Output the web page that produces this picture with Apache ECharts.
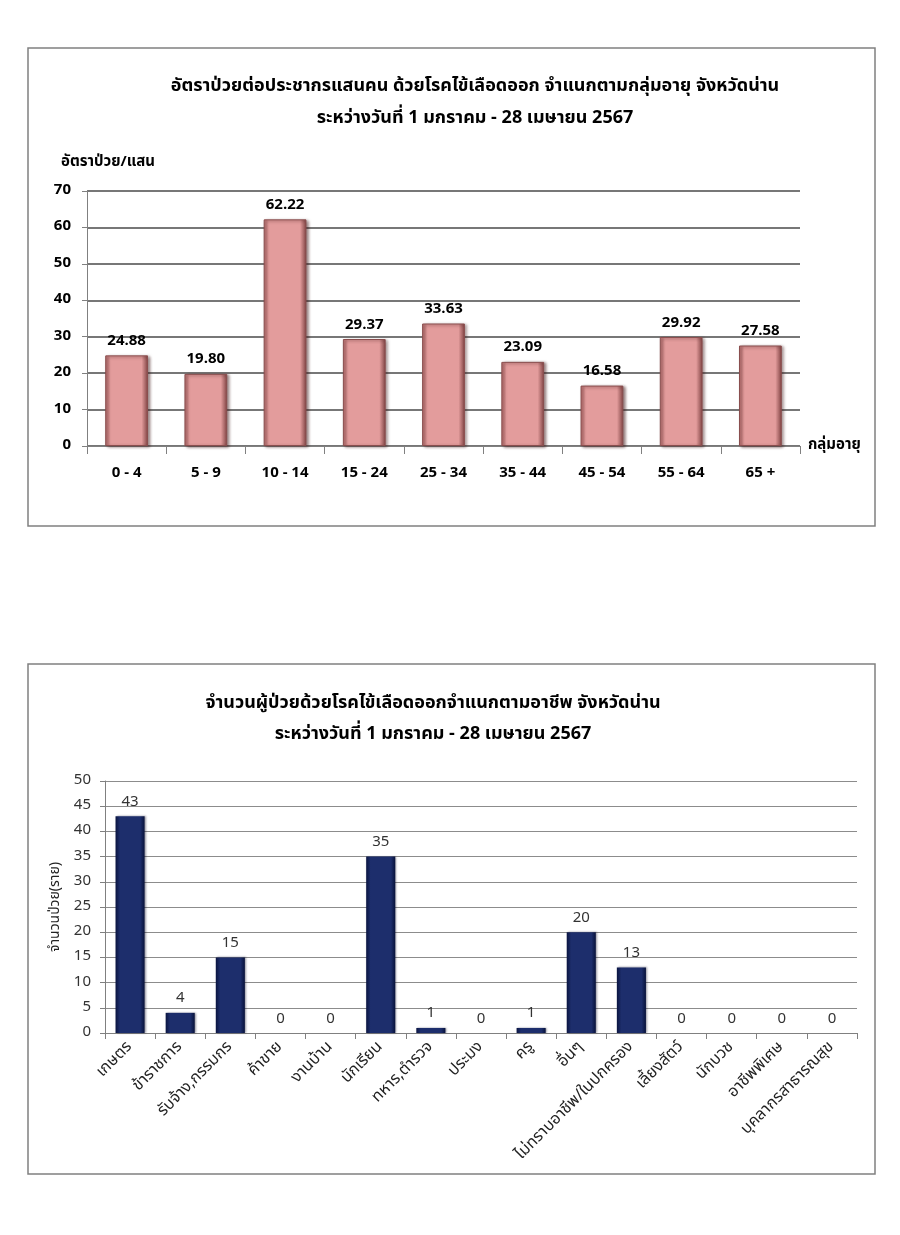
<!DOCTYPE html>
<html>
<head>
<meta charset="utf-8">
<script src="https://cdn.jsdelivr.net/npm/echarts@6/dist/echarts.min.js"></script>
<style>
html,body{margin:0;padding:0;background:#fff;}
#c{width:900px;height:1235px;}
</style>
</head>
<body>
<div id="c"></div>
<script>
// ---------- Data ----------
const ageGroups = ['0 - 4', '5 - 9', '10 - 14', '15 - 24', '25 - 34', '35 - 44', '45 - 54', '55 - 64', '65 +'];
const ageRates = [24.88, 19.80, 62.22, 29.37, 33.63, 23.09, 16.58, 29.92, 27.58];
const rateTicks = [0, 10, 20, 30, 40, 50, 60, 70];

const occupations = ['เกษตร', 'ข้าราชการ', 'รับจ้าง,กรรมกร', 'ค้าขาย', 'งานบ้าน', 'นักเรียน', 'ทหาร,ตำรวจ', 'ประมง', 'ครู', 'อื่นๆ', 'ไม่ทราบอาชีพ/ในปกครอง', 'เลี้ยงสัตว์', 'นักบวช', 'อาชีพพิเศษ', 'บุคลากรสาธารณสุข'];
const occupationCases = [43, 4, 15, 0, 0, 35, 1, 0, 1, 20, 13, 0, 0, 0, 0];
const caseTicks = [0, 5, 10, 15, 20, 25, 30, 35, 40, 45, 50];

const title1 = 'อัตราป่วยต่อประชากรแสนคน ด้วยโรคไข้เลือดออก จำแนกตามกลุ่มอายุ จังหวัดน่าน\nระหว่างวันที่ 1 มกราคม - 28 เมษายน 2567';
const title2 = 'จำนวนผู้ป่วยด้วยโรคไข้เลือดออกจำแนกตามอาชีพ จังหวัดน่าน\nระหว่างวันที่ 1 มกราคม - 28 เมษายน 2567';
const yName1 = 'อัตราป่วย/แสน';
const xName1 = 'กลุ่มอายุ';
const yName2 = 'จำนวนป่วย(ราย)';

// ---------- Chart ----------
const FONT = "Tahoma, 'Noto Sans Thai', 'Noto Sans', 'DejaVu Sans', sans-serif";
const chart = echarts.init(document.getElementById('c'), null, {renderer: 'canvas'});

const pink = new echarts.graphic.LinearGradient(0, 0, 1, 0, [
  {offset: 0, color: '#b06a6a'},
  {offset: 0.12, color: '#e39c9c'},
  {offset: 0.85, color: '#e39c9c'},
  {offset: 1, color: '#7e4242'}
]);
const navy = new echarts.graphic.LinearGradient(0, 0, 1, 0, [
  {offset: 0, color: '#0a1440'},
  {offset: 0.15, color: '#1d2e6c'},
  {offset: 0.85, color: '#1d2e6c'},
  {offset: 1, color: '#08123a'}
]);

const option = {
  animation: false,
  textStyle: {fontFamily: FONT},
  graphic: [
    {type: 'rect', shape: {x: 28, y: 48, width: 847, height: 478}, style: {fill: 'none', stroke: '#808080', lineWidth: 1.5}},
    {type: 'rect', shape: {x: 28, y: 664, width: 847, height: 510}, style: {fill: 'none', stroke: '#808080', lineWidth: 1.5}},
    {type: 'text', left: 61, top: 155, style: {text: yName1, font: 'bold 15px ' + FONT, fill: '#000'}}
  ],
  title: [
    {text: title1, left: 470, top: 66, textAlign: 'center',
      textStyle: {fontFamily: FONT, fontSize: 18, fontWeight: 'bold', color: '#000', lineHeight: 32}},
    {text: title2, left: 428, top: 684, textAlign: 'center',
      textStyle: {fontFamily: FONT, fontSize: 18, fontWeight: 'bold', color: '#000', lineHeight: 31}}
  ],
  grid: [
    {left: 87, right: 100, top: 191, bottom: 789, containLabel: false},
    {left: 105, right: 43, top: 781, bottom: 202, containLabel: false}
  ],
  xAxis: [
    {type: 'category', gridIndex: 0, data: ageGroups,
      name: xName1, nameLocation: 'end', nameGap: 8,
      nameTextStyle: {fontFamily: FONT, fontSize: 15, fontWeight: 'bold', color: '#000', verticalAlign: 'middle'},
      axisLine: {lineStyle: {color: '#808080', width: 1}},
      axisTick: {show: true, length: 8, lineStyle: {color: '#808080'}},
      axisLabel: {margin: 20, fontFamily: FONT, fontSize: 15, fontWeight: 'bold', color: '#000'}},
    {type: 'category', gridIndex: 1, data: occupations,
      axisLine: {lineStyle: {color: '#808080', width: 1}},
      axisTick: {show: true, length: 6, lineStyle: {color: '#808080'}},
      axisLabel: {rotate: 45, margin: 12, interval: 0, fontFamily: FONT, fontSize: 16, color: '#222'}}
  ],
  yAxis: [
    {type: 'value', gridIndex: 0, min: rateTicks[0], max: rateTicks[rateTicks.length - 1], interval: 10,
      axisLine: {show: true, lineStyle: {color: '#808080'}},
      axisTick: {show: true, length: 5, lineStyle: {color: '#808080'}},
      axisLabel: {margin: 16, fontFamily: FONT, fontSize: 15, fontWeight: 'bold', color: '#000'},
      splitLine: {lineStyle: {color: '#4a4a4a', width: 1.5}}},
    {type: 'value', gridIndex: 1, min: caseTicks[0], max: caseTicks[caseTicks.length - 1], interval: 5,
      name: yName2, nameLocation: 'middle', nameGap: 40, nameRotate: 90,
      nameTextStyle: {fontFamily: FONT, fontSize: 14, color: '#222'},
      axisLine: {show: true, lineStyle: {color: '#808080'}},
      axisTick: {show: true, length: 5, lineStyle: {color: '#808080'}},
      axisLabel: {margin: 14, fontFamily: FONT, fontSize: 15, color: '#333'},
      splitLine: {lineStyle: {color: '#8c8c8c', width: 1}}}
  ],
  series: [
    {type: 'bar', xAxisIndex: 0, yAxisIndex: 0, data: ageRates, barWidth: '54%',
      itemStyle: {color: pink, borderColor: '#8a4e4e', borderWidth: 1,
        shadowColor: 'rgba(60,20,20,0.55)', shadowBlur: 3, shadowOffsetX: 2, shadowOffsetY: 1},
      label: {show: true, position: 'top', distance: 6, formatter: p => p.value.toFixed(2),
        fontFamily: FONT, fontSize: 15, fontWeight: 'bold', color: '#000'}},
    {type: 'bar', xAxisIndex: 1, yAxisIndex: 1, data: occupationCases, barWidth: '58%',
      itemStyle: {color: navy, borderWidth: 0,
        shadowColor: 'rgba(0,0,30,0.4)', shadowBlur: 2, shadowOffsetX: 1, shadowOffsetY: 0},
      label: {show: true, position: 'top', distance: 6,
        fontFamily: FONT, fontSize: 15, color: '#333'}}
  ]
};
chart.setOption(option);
</script>
</body>
</html>
